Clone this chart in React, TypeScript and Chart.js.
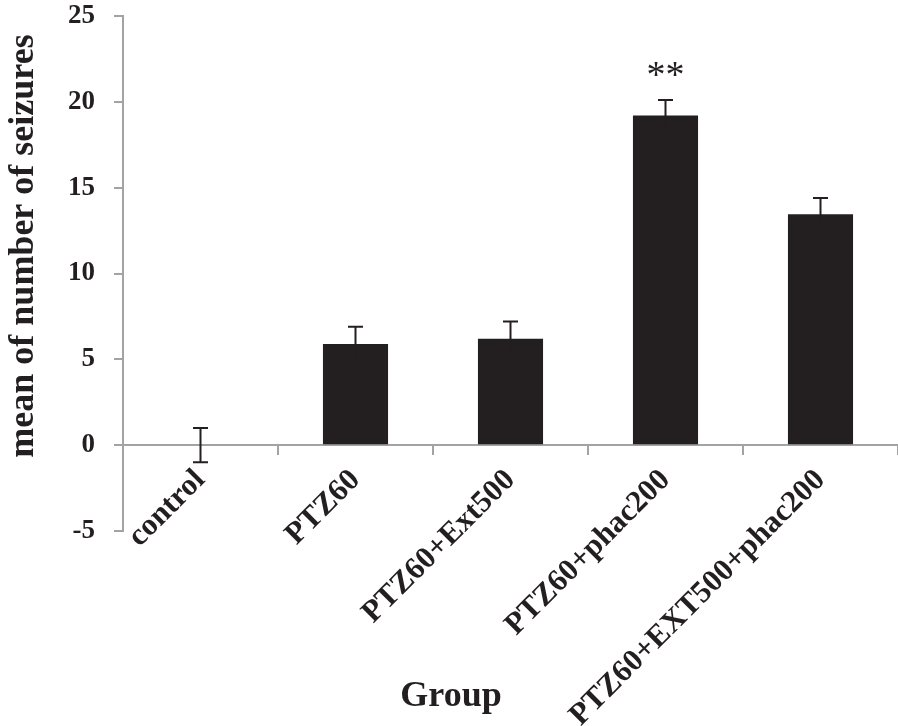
import { useEffect, useRef } from 'react';
import { Chart, registerables } from 'chart.js';

Chart.register(...registerables);

const categories = ['control', 'PTZ60', 'PTZ60+Ext500', 'PTZ60+phac200', 'PTZ60+EXT500+phac200'];
const means = [0, 5.9, 6.2, 19.2, 13.45];
const errors = [1, 1, 1, 0.9, 0.95];
const marks = ['', '', '', '**', ''];
const yMin = -5;
const yMax = 25;
const yStep = 5;
const yTitle = 'mean of number of seizures';
const xTitle = 'Group';

const FONT = "'Liberation Serif', 'Times New Roman', serif";
const INK = '#231f20';
const AXIS = '#a3a3a3';

const overlayPlugin = {
  id: 'overlay',
  afterDatasetsDraw(chart: any) {
    const ctx = chart.ctx;
    const meta = chart.getDatasetMeta(0);
    const y = chart.scales.y;
    ctx.save();
    ctx.strokeStyle = INK;
    ctx.lineWidth = 2;
    meta.data.forEach((bar: any, i: number) => {
      const x = bar.x;
      const top = y.getPixelForValue(means[i] + errors[i]);
      const bot = y.getPixelForValue(means[i] - errors[i]);
      ctx.beginPath();
      ctx.moveTo(x, top);
      ctx.lineTo(x, bot);
      ctx.moveTo(x - 7.5, top);
      ctx.lineTo(x + 7.5, top);
      ctx.moveTo(x - 7.5, bot);
      ctx.lineTo(x + 7.5, bot);
      ctx.stroke();
      if (marks[i]) {
        ctx.fillStyle = INK;
        ctx.font = `38px ${FONT}`;
        ctx.textAlign = 'center';
        ctx.textBaseline = 'alphabetic';
        ctx.fillText(marks[i], x, top - 13);
      }
    });
    ctx.restore();
  },
  afterDraw(chart: any) {
    const ctx = chart.ctx;
    ctx.save();
    ctx.fillStyle = INK;
    ctx.font = `bold 36px ${FONT}`;
    ctx.textAlign = 'center';
    ctx.textBaseline = 'alphabetic';
    ctx.fillText(xTitle, 451, 706);
    ctx.translate(33, 246);
    ctx.rotate(-Math.PI / 2);
    ctx.fillText(yTitle, 0, 0);
    ctx.restore();
  },
};

export default function App() {
  const ref = useRef<HTMLCanvasElement>(null);
  useEffect(() => {
    document.body.style.margin = '0';
    const chart = new Chart(ref.current!, {
      type: 'bar',
      data: {
        labels: categories,
        datasets: [
          {
            data: means,
            backgroundColor: INK,
            borderWidth: 0,
            barPercentage: 0.42,
            categoryPercentage: 1,
          },
        ],
      },
      options: {
        animation: false,
        responsive: true,
        maintainAspectRatio: false,
        layout: { padding: { top: 16, right: 0, bottom: 195, left: 0 } },
        plugins: { legend: { display: false }, tooltip: { enabled: false } },
        scales: {
          x: {
            position: { y: 0 } as any,
            grid: { offset: true, drawOnChartArea: false, drawTicks: true, tickLength: 9, color: AXIS, lineWidth: 2 },
            border: { color: AXIS, width: 2 },
            ticks: {
              color: INK,
              font: { family: FONT, size: 31, weight: 'bold' },
              minRotation: 45,
              maxRotation: 45,
              padding: 8,
              autoSkip: false,
            },
          },
          y: {
            min: yMin,
            max: yMax,
            afterFit(scale: any) {
              scale.width = 123;
              scale.paddingTop = 0;
              scale.paddingBottom = 0;
            },
            grid: { drawOnChartArea: false, drawTicks: true, tickLength: 9, color: AXIS, lineWidth: 2 },
            border: { color: AXIS, width: 2 },
            ticks: {
              stepSize: yStep,
              color: INK,
              font: { family: FONT, size: 27, weight: 'bold' },
              padding: 19,
            },
          },
        },
      },
      plugins: [overlayPlugin],
    });
    return () => chart.destroy();
  }, []);
  return (
    <div style={{ width: 898, height: 726, position: 'relative' }}>
      <canvas ref={ref} />
    </div>
  );
}
